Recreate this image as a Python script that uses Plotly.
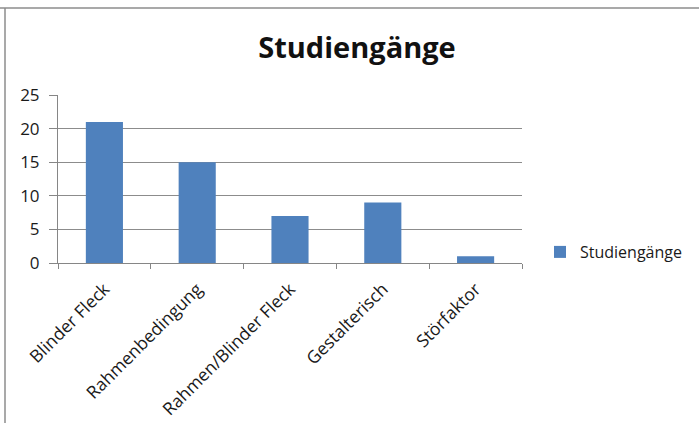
import plotly.graph_objects as go

categories = ["Blinder Fleck", "Rahmenbedingung", "Rahmen/Blinder Fleck", "Gestalterisch", "Störfaktor"]
values = [21, 15, 7, 9, 1]
series_name = "Studiengänge"
title_text = "Studiengänge"
y_ticks = [0, 5, 10, 15, 20, 25]

W, H = 699, 423
L, R, T, B = 58, 522, 95, 263
pw, ph = R - L, B - T

def px(x):
    return (x - L) / pw

def py(y):
    return (B - y) / ph

font_fam = "Open Sans, Noto Sans, sans-serif"

fig = go.Figure()
fig.add_trace(go.Bar(
    x=categories, y=values, name=series_name,
    marker=dict(color="#4F81BD", line=dict(width=0)),
    showlegend=True,
))

fig.update_layout(
    width=W, height=H,
    margin=dict(l=L, r=W - R, t=T, b=H - B, autoexpand=False),
    paper_bgcolor="white", plot_bgcolor="white",
    bargap=0.6,
    font=dict(family=font_fam, size=16, color="#1a1a1a"),
    title=dict(text="<b>" + title_text + "</b>", x=357 / W, xref="container", xanchor="center",
               y=1 - 48 / H, yref="container", yanchor="middle",
               font=dict(family=font_fam, size=29, color="#111111")),
    legend=dict(x=px(540), y=py(252), xanchor="left", yanchor="middle",
                font=dict(size=16, color="#1a1a1a"), bgcolor="rgba(0,0,0,0)",
                itemwidth=30),
    xaxis=dict(
        showline=True, linecolor="#868686", linewidth=1,
        ticks="outside", ticklen=5, tickcolor="#868686", tickson="boundaries",
        tickangle=-45, tickfont=dict(size=17.5, color="#1a1a1a"),
        ticklabelstandoff=8,
        showgrid=False,
    ),
    yaxis=dict(
        range=[0, 25], tickvals=y_ticks,
        showline=True, linecolor="#868686", linewidth=1,
        ticks="outside", ticklen=8, tickcolor="#868686",
        showgrid=True, gridcolor="#8c8c8c", gridwidth=1,
        zeroline=False,
        tickfont=dict(size=17, color="#1a1a1a"),
        ticklabelstandoff=6,
    ),
    shapes=[
        dict(type="line", xref="paper", yref="paper", x0=px(0), x1=px(W), y0=py(8), y1=py(8),
             line=dict(color="#8c8c8c", width=1.5)),
        dict(type="line", xref="paper", yref="paper", x0=px(5), x1=px(5), y0=py(8), y1=py(H),
             line=dict(color="#8c8c8c", width=1.5)),
    ],
)

fig.write_html("out.html")
